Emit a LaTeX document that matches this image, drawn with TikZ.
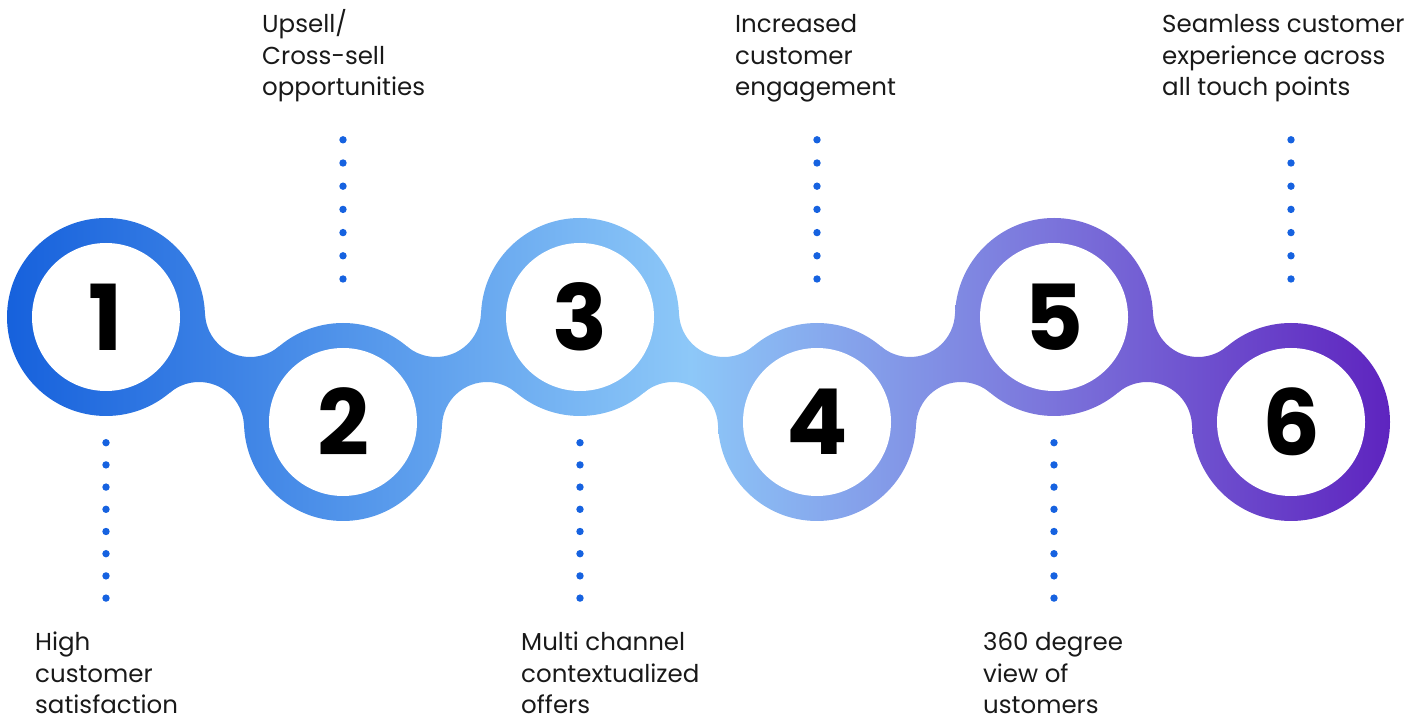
\documentclass[tikz,border=0pt]{standalone}
\usepackage{fontspec}
\setmainfont{Poppins}
\usetikzlibrary{calc}
\definecolor{gA}{HTML}{1560DC}
\definecolor{gB}{HTML}{8DC8F8}
\definecolor{gC}{HTML}{7B74DB}
\definecolor{gD}{HTML}{5C1EBD}
\definecolor{dotblue}{HTML}{1662E0}
\newcommand\gradpiece[1]{\begin{scope}\clip #1;
 \shade[left color=gA,right color=gB] (0,0) rectangle (690.5,720);
 \shade[left color=gB,right color=gC] (690,0) rectangle (1050.5,720);
 \shade[left color=gC,right color=gD] (1050,0) rectangle (1416,720);
\end{scope}}
\tikzset{
  numlbl/.style={font=\fontsize{91}{91}\selectfont\bfseries, inner sep=0pt, text=black},
  lbl/.style={font=\fontsize{24.5}{31.5}\selectfont, align=left, inner sep=0pt, anchor=base west, text=black!90},
  dotline/.style={draw=dotblue, line width=7.4pt, line cap=round, dash pattern=on 0pt off #1},
  hole/.style={fill=white}
}
\begin{document}
\begin{tikzpicture}[x=1pt,y=1pt]
\useasboundingbox (0,0) rectangle (1416,720);
\coordinate (c1) at (106,403);
\coordinate (c2) at (343,298);
\coordinate (c3) at (580,403);
\coordinate (c4) at (817,298);
\coordinate (c5) at (1054,403);
\coordinate (c6) at (1291,298);
% rings
\foreach \c in {c1,c2,c3,c4,c5,c6}{\gradpiece{(\c) circle[radius=99]}}
% bridges
\gradpiece{(c1) -- ($(c1)+(93,-110)+(130.22:45)$) arc[start angle=130.22,end angle=1.99,radius=45] -- (c2) -- ($(c1)+(144,5)+(310.22:45)$) arc[start angle=310.22,end angle=181.99,radius=45] -- cycle}
\gradpiece{(c3) -- ($(c3)+(93,-110)+(130.22:45)$) arc[start angle=130.22,end angle=1.99,radius=45] -- (c4) -- ($(c3)+(144,5)+(310.22:45)$) arc[start angle=310.22,end angle=181.99,radius=45] -- cycle}
\gradpiece{(c5) -- ($(c5)+(93,-110)+(130.22:45)$) arc[start angle=130.22,end angle=1.99,radius=45] -- (c6) -- ($(c5)+(144,5)+(310.22:45)$) arc[start angle=310.22,end angle=181.99,radius=45] -- cycle}
\gradpiece{(c2) -- ($(c2)+(144,-5)+(178.01:45)$) arc[start angle=178.01,end angle=49.78,radius=45] -- (c3) -- ($(c2)+(93,110)+(-1.99:45)$) arc[start angle=-1.99,end angle=-130.22,radius=45] -- cycle}
\gradpiece{(c4) -- ($(c4)+(144,-5)+(178.01:45)$) arc[start angle=178.01,end angle=49.78,radius=45] -- (c5) -- ($(c4)+(93,110)+(-1.99:45)$) arc[start angle=-1.99,end angle=-130.22,radius=45] -- cycle}
% inner discs and numbers
\foreach \c/\n in {c1/1,c2/2,c3/3,c4/4,c5/5,c6/6}{
  \fill[hole] (\c) circle[radius=74];
  \node[numlbl] (n\n) at (\c) {\n};
}
% dotted connectors
\foreach \c in {c1,c3,c5}{
  \coordinate (\c s) at ($(\c)+(0,-125.7)$);
  \coordinate (\c e) at ($(\c)+(0,-282.0)$);
  \draw[dotline=22.2pt] (\c s) -- (\c e);
}
\foreach \c in {c2,c4,c6}{
  \coordinate (\c s) at ($(\c)+(0,143)$);
  \coordinate (\c e) at ($(\c)+(0,283.5)$);
  \draw[dotline=23.2pt] (\c s) -- (\c e);
}
% labels (anchor = baseline of last line)
\node[lbl] (t1) at (35,6) {High\\customer\\satisfaction};
\node[lbl] (t2) at (262,624) {Upsell/\\Cross-sell\\opportunities};
\node[lbl] (t3) at (521,6) {Multi channel\\contextualized\\offers};
\node[lbl] (t4) at (735,624) {Increased\\customer\\engagement};
\node[lbl] (t5) at (983,6) {360 degree\\view of\\ustomers};
\node[lbl] (t6) at (1162,624) {Seamless customer\\experience across\\all touch points};
\end{tikzpicture}
\end{document}
